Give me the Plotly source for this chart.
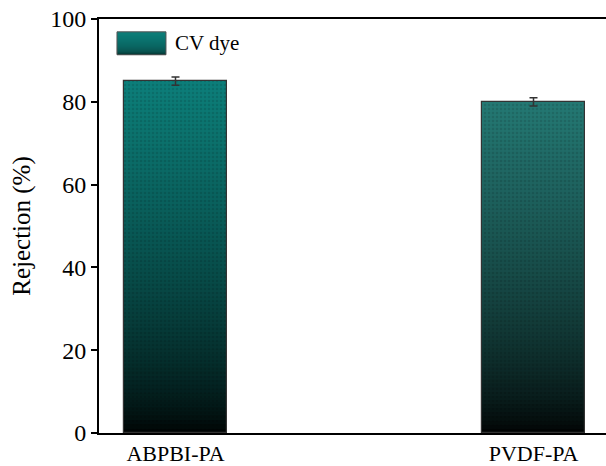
import plotly.graph_objects as go

# ---- data -------------------------------------------------------------
categories = ["ABPBI-PA", "PVDF-PA"]
rejection = [85.0, 80.0]          # dye rejection, %
rejection_err = [1.0, 1.0]        # standard deviation, %
series_name = "CV dye"
y_tick_values = [0, 20, 40, 60, 80, 100]

# ---- style ------------------------------------------------------------
FONT = "Liberation Serif, Times New Roman, serif"
TOP_COLORS = [(12, 127, 122), (36, 120, 115)]   # teal at bar top
BOTTOM_COLOR = (0, 0, 0)                         # fades to black at base
N_STEPS = 80
GAMMA = 0.65
BAR_WIDTH = 0.286


def shade(top, f):
    """Colour at relative height f (0 = base, 1 = top) of a bar."""
    t = max(f, 0.0) ** GAMMA
    r, g, b = (int(round(BOTTOM_COLOR[i] + (top[i] - BOTTOM_COLOR[i]) * t)) for i in range(3))
    return f"rgb({r},{g},{b})"


fig = go.Figure()

# vertical gradient fill: nested bars from the base, tallest (lightest) first,
# each shorter one painted over it with a darker tone -> seamless gradient
for k in range(N_STEPS):
    frac_top = (N_STEPS - k) / N_STEPS
    f = (N_STEPS - k - 0.5) / N_STEPS
    fig.add_trace(go.Bar(
        x=categories,
        y=[v * frac_top for v in rejection],
        width=BAR_WIDTH,
        marker=dict(color=[shade(c, f) for c in TOP_COLORS], line=dict(width=0)),
        showlegend=False,
        hoverinfo="skip",
    ))

# texture, outline and error bars
fig.add_trace(go.Bar(
    x=categories,
    y=rejection,
    width=BAR_WIDTH,
    name=series_name,
    marker=dict(color="rgba(0,0,0,0)", line=dict(color="#333333", width=1.2),
                pattern=dict(shape=".", size=4, solidity=0.3,
                             fgcolor="black", fgopacity=0.12)),
    error_y=dict(type="data", array=rejection_err, visible=True,
                 color="#333333", thickness=1.5, width=4),
    showlegend=False,
))

# legend entry drawn as a gradient swatch + label
sw_x0, sw_x1 = 0.0355, 0.1321
sw_y0, sw_y1 = 0.9136, 0.969
n_sw = 24
for k in range(n_sw):
    frac_top = (n_sw - k) / n_sw
    f = (n_sw - k - 0.5) / n_sw
    fig.add_shape(type="rect", xref="paper", yref="paper",
                  x0=sw_x0, x1=sw_x1,
                  y0=sw_y0, y1=sw_y0 + (sw_y1 - sw_y0) * frac_top,
                  line=dict(width=0),
                  fillcolor=shade(TOP_COLORS[0], f ** 0.35), layer="above")
fig.add_shape(type="rect", xref="paper", yref="paper",
              x0=sw_x0, x1=sw_x1, y0=sw_y0, y1=sw_y1,
              line=dict(color="#555555", width=1), layer="above")
fig.add_annotation(xref="paper", yref="paper", x=0.1454, y=(sw_y0 + sw_y1) / 2,
                   text=series_name, showarrow=False, xanchor="left", yanchor="middle",
                   font=dict(family=FONT, size=21, color="black"))

fig.update_layout(
    width=606, height=466,
    margin=dict(l=99, r=0, t=19, b=33),
    paper_bgcolor="white", plot_bgcolor="white",
    barmode="overlay",
    bargap=0,
    showlegend=False,
    font=dict(family=FONT, color="black"),
    xaxis=dict(
        type="category",
        range=[-0.2137, 1.2025],
        showline=True, linecolor="black", linewidth=2, mirror=True,
        ticks="", showgrid=False, zeroline=False,
        tickfont=dict(family=FONT, size=22, color="black"),
    ),
    yaxis=dict(
        range=[0, 100],
        tickvals=y_tick_values,
        showline=True, linecolor="black", linewidth=2,
        ticks="outside", ticklen=6, tickwidth=2, tickcolor="black",
        showgrid=False, zeroline=False,
        tickfont=dict(family=FONT, size=24, color="black"),
        title=dict(text="Rejection (%)", font=dict(family=FONT, size=25, color="black"),
                   standoff=12),
    ),
)

fig.write_html("out.html")
